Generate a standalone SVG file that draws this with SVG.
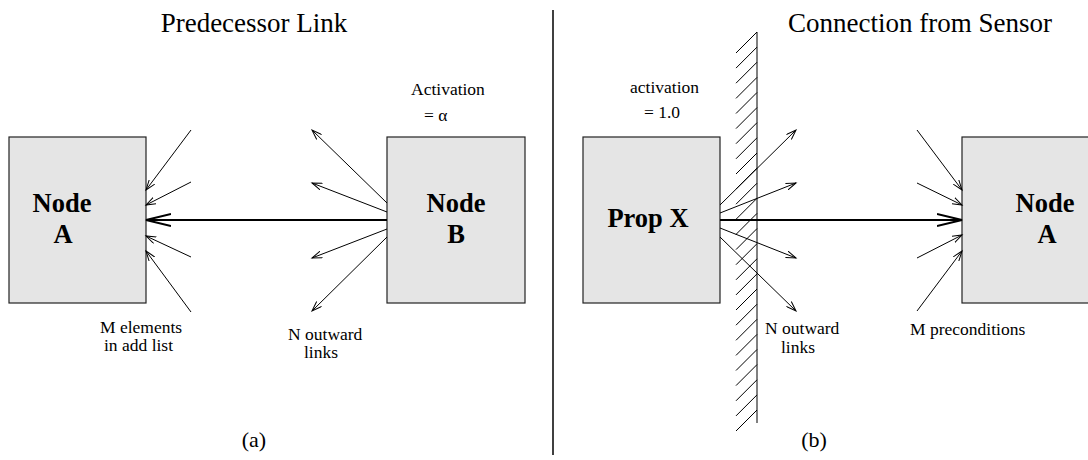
<svg xmlns="http://www.w3.org/2000/svg" width="1088" height="460" viewBox="0 0 1088 460">
<style>
text{font-family:"Liberation Serif","Times New Roman",serif;fill:#000}
.title{font-size:27px;text-anchor:middle}
.big{font-size:26.5px;font-weight:bold;text-anchor:middle}
.sm{font-size:17.5px}
.cap{font-size:22px;text-anchor:middle}
.box{fill:#e5e5e5;stroke:#222;stroke-width:1.2}
.thin{stroke:#000;stroke-width:1;fill:none;marker-end:url(#ah)}
.main{stroke:#000;stroke-width:1.8;fill:none;marker-end:url(#ahBig)}
.hatch{stroke:#000;stroke-width:1}
</style>
<defs>
<marker id="ah" markerWidth="12" markerHeight="8" refX="10" refY="4" orient="auto" markerUnits="userSpaceOnUse"><path d="M0,0.5 L10,4 L0,7.5" fill="none" stroke="#000" stroke-width="1"/></marker>
<marker id="ahBig" markerWidth="27" markerHeight="14" refX="25" refY="7" orient="auto" markerUnits="userSpaceOnUse"><path d="M0,1 L25,7 L0,13" fill="none" stroke="#000" stroke-width="1.8"/></marker>
</defs>
<rect width="1088" height="460" fill="#fff"/>

<g id="titles">
<text class="title" x="254" y="32">Predecessor Link</text>
<text class="title" x="920" y="32">Connection from Sensor</text>
<text class="cap" x="254" y="447">(a)</text>
<text class="cap" x="814" y="447">(b)</text>
</g>

<g id="divider"><line x1="553" y1="10" x2="553" y2="455" stroke="#000" stroke-width="1.5"/></g>

<g id="wall">
<line x1="757" y1="32" x2="757" y2="423" stroke="#808080" stroke-width="2"/>
<path class="hatch" d="M736,53 L757,32 M736,68.1 L757,47.1 M736,83.2 L757,62.2 M736,98.4 L757,77.4 M736,113.5 L757,92.5 M736,128.6 L757,107.6 M736,143.7 L757,122.7 M736,158.8 L757,137.8 M736,174 L757,153 M736,189.1 L757,168.1 M736,204.2 L757,183.2 M736,219.3 L757,198.3 M736,234.4 L757,213.4 M736,249.6 L757,228.6 M736,264.7 L757,243.7 M736,279.8 L757,258.8 M736,294.9 L757,273.9 M736,310 L757,289 M736,325.2 L757,304.2 M736,340.3 L757,319.3 M736,355.4 L757,334.4 M736,370.5 L757,349.5 M736,385.6 L757,364.6 M736,400.8 L757,379.8 M736,415.9 L757,394.9 M736,431 L757,410"/>
</g>

<g id="nodeA-left">
<rect class="box" x="9" y="137" width="137" height="166"/>
<text class="big" x="62" y="212">Node</text>
<text class="big" x="63" y="243">A</text>
</g>

<g id="nodeB">
<rect class="box" x="387" y="137" width="138" height="166"/>
<text class="big" x="456" y="212">Node</text>
<text class="big" x="456" y="243">B</text>
<text class="sm" x="411" y="95">Activation</text>
<text class="sm" x="424" y="121">= α</text>
</g>

<g id="propX">
<rect class="box" x="583" y="137" width="137" height="166"/>
<text class="big" x="648" y="227">Prop X</text>
<text class="sm" x="630" y="93">activation</text>
<text class="sm" x="644" y="118">= 1.0</text>
</g>

<g id="nodeA-right">
<rect class="box" x="962" y="137" width="140" height="166"/>
<text class="big" x="1045" y="212">Node</text>
<text class="big" x="1047" y="243">A</text>
</g>

<g id="connectors">
<line class="main" x1="387" y1="220" x2="146" y2="220"/>
<line class="thin" x1="191" y1="130" x2="146" y2="190"/>
<line class="thin" x1="191" y1="182" x2="146" y2="205"/>
<line class="thin" x1="191" y1="257" x2="146" y2="236"/>
<line class="thin" x1="191" y1="312" x2="146" y2="251"/>
<line class="thin" x1="387" y1="203" x2="312" y2="130"/>
<line class="thin" x1="387" y1="212" x2="312" y2="183"/>
<line class="thin" x1="387" y1="229" x2="312" y2="258"/>
<line class="thin" x1="387" y1="237" x2="312" y2="311"/>

<line class="main" x1="720" y1="220" x2="962" y2="220"/>
<line class="thin" x1="720" y1="205" x2="796" y2="130"/>
<line class="thin" x1="720" y1="213" x2="796" y2="183"/>
<line class="thin" x1="720" y1="228" x2="796" y2="258"/>
<line class="thin" x1="720" y1="237" x2="796" y2="311"/>
<line class="thin" x1="917" y1="130" x2="962" y2="190"/>
<line class="thin" x1="917" y1="183" x2="962" y2="205"/>
<line class="thin" x1="917" y1="258" x2="962" y2="235"/>
<line class="thin" x1="917" y1="311" x2="962" y2="251"/>
</g>

<g id="labels">
<text class="sm" x="100" y="333">M elements</text>
<text class="sm" x="104" y="351">in add list</text>
<text class="sm" x="288" y="340">N outward</text>
<text class="sm" x="304" y="358">links</text>
<text class="sm" x="765" y="334">N outward</text>
<text class="sm" x="781" y="353">links</text>
<text class="sm" x="910" y="335">M preconditions</text>
</g>
</svg>
